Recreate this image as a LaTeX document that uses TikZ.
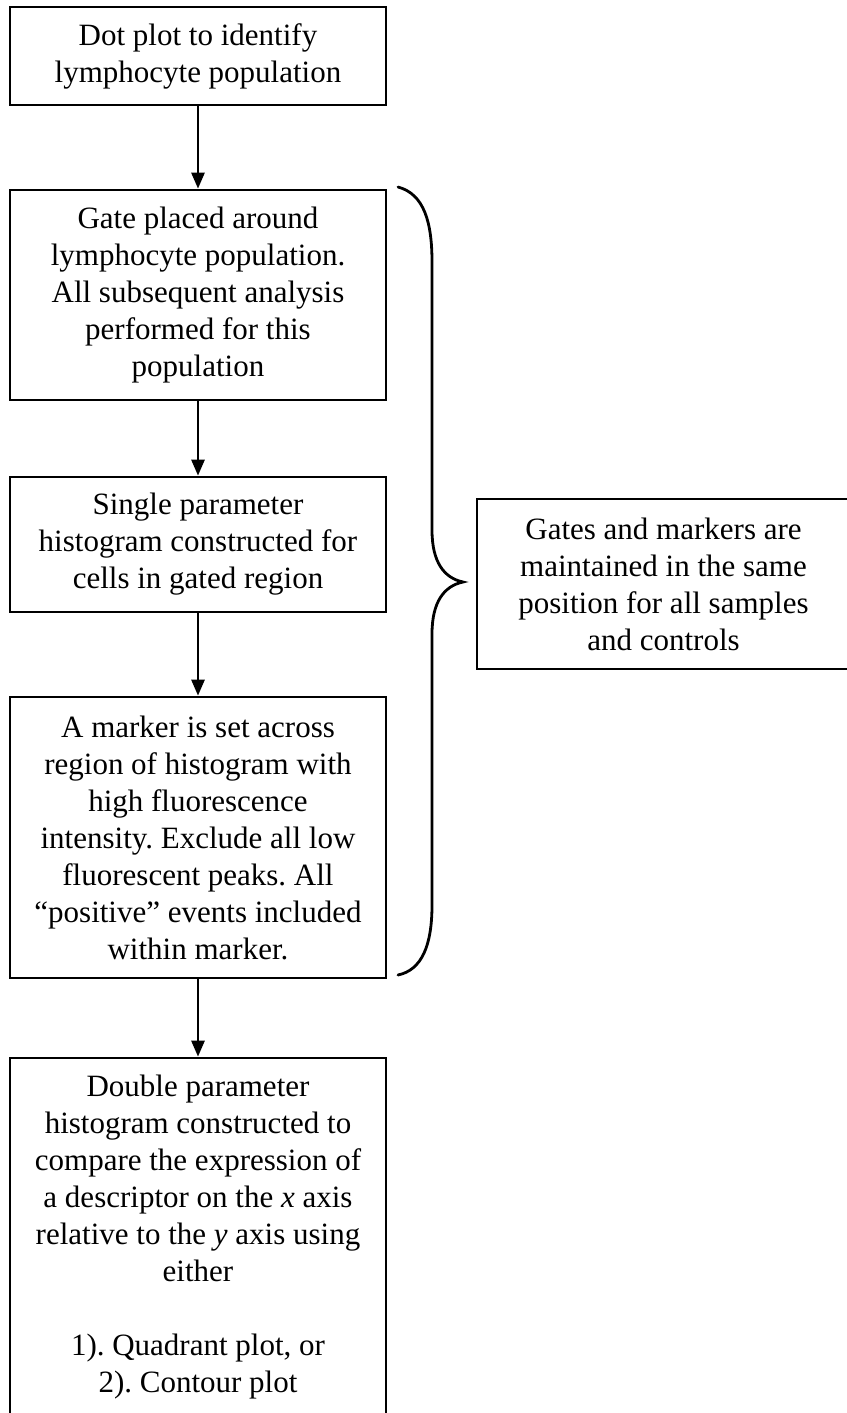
\documentclass[tikz,border=0pt]{standalone}
\usepackage{fontspec}
\setmainfont{Liberation Serif}
\usetikzlibrary{arrows.meta}
\frenchspacing
\begin{document}
\begin{tikzpicture}[x=1pt,y=1pt,
  flowbox/.style={draw,line width=2.7pt,minimum width=376pt,inner sep=0pt,align=center,
    font=\fontsize{31}{37}\selectfont},
  flowarrow/.style={line width=2.7pt,-{Triangle[width=13pt,length=16pt]}},
  bracepath/.style={line width=2.8pt,line cap=round}]
\useasboundingbox (0,0) rectangle (846,-1413);
\node[flowbox,minimum height=98pt] (b1) at (198,-56) {Dot plot to identify\\lymphocyte population};
\node[flowbox,minimum height=210pt] (b2) at (198,-295) {Gate placed around\\lymphocyte population.\\All subsequent analysis\\performed for this\\population};
\node[flowbox,minimum height=135pt] (b3) at (198,-544.5) {Single parameter\\histogram constructed for\\cells in gated region};
\node[flowbox,minimum height=281pt] (b4) at (198,-837.5) {A marker is set across\\region of histogram with\\high fluorescence\\intensity. Exclude all low\\fluorescent peaks. All\\“positive” events included\\within marker.};
\node[flowbox,minimum height=359pt] (b5) at (198,-1237.5) {Double parameter\\histogram constructed to\\compare the expression of\\a descriptor on the \textit{x} axis\\relative to the \textit{y} axis using\\either\\[37pt]1). Quadrant plot, or\\2). Contour plot};
\node[flowbox,minimum width=373pt,minimum height=170pt] (side) at (663.5,-584) {Gates and markers are\\maintained in the same\\position for all samples\\and controls};
\draw[flowarrow] (b1) -- (b2);
\draw[flowarrow] (b2) -- (b3);
\draw[flowarrow] (b3) -- (b4);
\draw[flowarrow] (b4) -- (b5);
\coordinate (btop) at (398,-187);
\coordinate (btip) at (463,-582);
\coordinate (bbot) at (398,-975);
\draw[bracepath] (btop) .. controls (424,-194) and (432,-222) .. (432,-262)
  -- (432,-530) .. controls (432,-562) and (444,-578) .. (btip)
  .. controls (444,-586) and (432,-602) .. (432,-634)
  -- (432,-905) .. controls (432,-945) and (422,-970) .. (bbot);
\end{tikzpicture}
\end{document}
